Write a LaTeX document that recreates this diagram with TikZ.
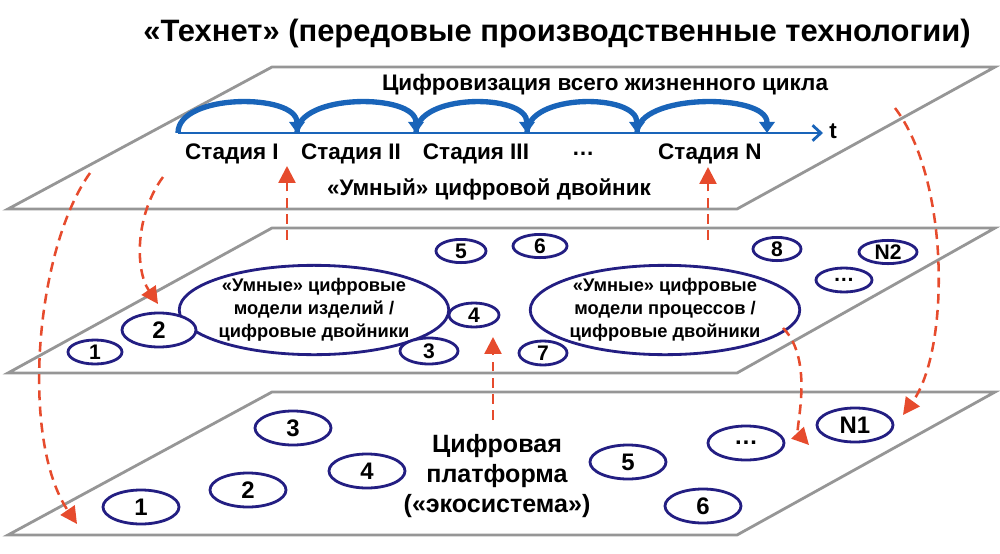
\documentclass[tikz,border=0pt]{standalone}
\usepackage{fontspec}
\setmainfont{Liberation Sans}
\usetikzlibrary{shapes.geometric,arrows.meta}

\definecolor{planegray}{RGB}{150,150,150}
\definecolor{ovalblue}{RGB}{35,30,130}
\definecolor{arcblue}{RGB}{25,100,185}
\definecolor{linkred}{RGB}{230,75,45}

\newcommand{\bsize}[2]{\bfseries\fontsize{#1}{#2}\selectfont}

\tikzset{
  plane/.style={draw=planegray, line width=2pt},
  oval/.style={ellipse, draw=ovalblue, line width=2pt, fill=white, inner sep=0pt},
  num/.style={oval, minimum width=1.3cm, minimum height=0.6cm, font=\bsize{15}{15}},
  bignum/.style={oval, minimum width=1.9cm, minimum height=0.85cm, font=\bsize{17}{17}},
  model/.style={oval, minimum width=5.9cm, minimum height=2.15cm, align=center, font=\bsize{13}{16.4}},
  stage/.style={font=\bsize{16}{16}},
  link/.style={draw=linkred, line width=1.8pt, dash pattern=on 7pt off 4.5pt,
    -{Triangle[length=12pt,width=12pt]}},
  hop/.style={draw=arcblue, line width=3.8pt, -{Triangle[length=8pt,width=11pt]}},
  axis/.style={draw=arcblue, line width=2pt, -{Straight Barb[length=6pt,width=11pt]}}
}

\begin{document}
\begin{tikzpicture}[x=0.025cm, y=-0.025cm]
\useasboundingbox (0,0) rectangle (1000,553);

% three layers
\draw[plane] (272,67) -- (995,67) -- (737,209) -- (8,209) -- cycle;
\draw[plane] (272,228) -- (995,228) -- (737,373) -- (8,373) -- cycle;
\draw[plane] (272,392) -- (995,392) -- (737,535) -- (8,535) -- cycle;

\node[font=\bsize{22}{22}] (title) at (557,33) {«Технет» (передовые производственные технологии)};

% top layer: life cycle
\node[stage] (lifecycle) at (605,85) {Цифровизация всего жизненного цикла};
\foreach \i/\x in {0/178,1/297,2/416,3/527,4/637,5/767}
  \coordinate (h\i) at (\x,133);
\coordinate (tend) at (823,133);
\draw[axis] (h0) -- (tend);
\foreach \i/\j in {0/1,1/2,2/3,3/4,4/5}
  \draw[hop] (h\i) .. controls +(0,-40) and +(0,-40) .. (h\j);
\node[stage] (t) at (833,131) {t};

\node[stage] (s1) at (232,154) {Стадия I};
\node[stage] (s2) at (351,154) {Стадия II};
\node[stage] (s3) at (476,154) {Стадия III};
\node[stage] (sdots) at (583,154) {…};
\node[stage] (sN) at (710,154) {Стадия N};
\node[stage] (twin) at (489,189) {«Умный» цифровой двойник};

% middle layer: models
\node[model] (mL) at (314,310) {«Умные» цифровые\\модели изделий /\\цифровые двойники};
\node[model, minimum width=6cm] (mR) at (665,310) {«Умные» цифровые\\модели процессов /\\цифровые двойники};
\node[num, minimum width=1.35cm] (m1) at (95,352) {1};
\node[num, minimum width=1.85cm, minimum height=0.85cm, font=\bsize{17}{17}] (m2) at (159,330) {2};
\node[num, minimum width=1.45cm, minimum height=0.65cm] (m3) at (429,351) {3};
\node[num, minimum width=1.25cm] (m4) at (474,315) {4};
\node[num, minimum width=1.25cm, minimum height=0.58cm] (m5) at (461,251) {5};
\node[num, minimum width=1.35cm, minimum height=0.58cm] (m6) at (540,246) {6};
\node[num, minimum width=1.2cm] (m7) at (543,353) {7};
\node[num, minimum width=1.2cm, minimum height=0.58cm] (m8) at (777,249) {8};
\node[num, minimum width=1.45cm, minimum height=0.58cm] (mN2) at (888,252) {N2};
\node[num, minimum width=1.4cm] (mdots) at (844,280) {…};

% bottom layer: platform
\node[align=center, font=\bsize{17.8}{21.3}] (platform) at (497,476) {Цифровая\\платформа\\(«экосистема»)};
\node[bignum] (b1) at (141,507) {1};
\node[bignum] (b2) at (248,490) {2};
\node[bignum] (b3) at (293,428) {3};
\node[bignum] (b4) at (367,471) {4};
\node[bignum] (b5) at (628,462) {5};
\node[bignum] (b6) at (703,506) {6};
\node[bignum] (bdots) at (746,443) {…};
\node[bignum] (bN1) at (855,425) {N1};

% links between layers
\coordinate (upA) at (287,240);
\coordinate (upAtip) at (287,166);
\coordinate (upB) at (708,240);
\coordinate (upBtip) at (708,167);
\coordinate (upC) at (493,420);
\coordinate (upCtip) at (493,337);
\coordinate (downA) at (163,177);
\coordinate (downAtip) at (158,304);
\coordinate (downB) at (90,173);
\coordinate (downBtip) at (77,524);
\coordinate (downC) at (895,108);
\coordinate (downCtip) at (903,415);
\coordinate (downD) at (783,328);
\coordinate (downDtip) at (809,445);

\draw[link] (upA) -- (upAtip);
\draw[link] (upB) -- (upBtip);
\draw[link] (upC) -- (upCtip);
\draw[link] (downA) .. controls (135,215) and (135,270) .. (downAtip);
\draw[link] (downB) .. controls (35,250) and (20,440) .. (downBtip);
\draw[link] (downC) .. controls (950,180) and (950,350) .. (downCtip);
\draw[link] (downD) .. controls (815,360) and (795,430) .. (downDtip);
\end{tikzpicture}
\end{document}
